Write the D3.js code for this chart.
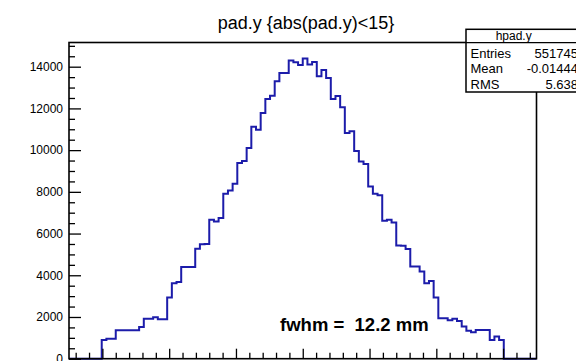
<!DOCTYPE html>
<html>
<head>
<meta charset="utf-8">
<script src="https://cdn.jsdelivr.net/npm/d3@7"></script>
<style>
    body { margin: 0; background: #fff; }
    svg { display: block; }
    text { font-family: "Liberation Sans", Arial, Helvetica, sans-serif; fill: #000; }
</style>
</head>
<body>
<div id="chart"></div>
<script>

// histogram hpad.y : 100 bins from -17.5 to 17.5
const binLo = -17.5;
const binHi = 17.5;
const counts = [
    0, 0, 0, 0, 0, 0, 0,
    900, 960, 960, 1360, 1360, 1360, 1360, 1370, 1520, 1920,
    1920, 1990, 1890, 1890, 2930, 3620, 3680, 4400, 4400, 4400,
    5270, 5490, 5500, 6660, 6580, 6750, 7910, 8070, 8390, 9380,
    9480, 10100, 11120, 10980, 11780, 12450, 12610, 13300, 13700, 13700,
    14300, 14210, 14080, 14390, 14100, 14230, 13540, 13840, 13460, 12450,
    12590, 12050, 10820, 10900, 9960, 9460, 9330, 8260, 7910, 7840,
    6610, 6660, 6530, 5430, 5410, 5260, 4420, 4420, 4180, 3620,
    3730, 2930, 1940, 1940, 1840, 1920, 1810, 1540, 1340, 1270,
    1380, 1380, 1380, 900, 1060, 900,
    0, 0, 0, 0, 0, 0, 0
];

const yMax = 15160;
const yMajorTicks = [0, 2000, 4000, 6000, 8000, 10000, 12000, 14000];
const xMajorTicks = [-15, -10, -5, 0, 5, 10, 15];

const titleText = "pad.y {abs(pad.y)<15}";
const statsTitle = "hpad.y";
const statsNames = ["Entries", "Mean", "RMS"];
const statsValues = ["551745", "-0.01444", "5.638"];
const fwhmText = "fwhm =  12.2 mm";
const fwhmPos = [-1.7, 1340];

var width = 576;
var height = 361;
var frameL = 69, frameR = 536.5, frameT = 42.5, frameB = 358.7;

var svg = d3.select("#chart")
    .append("svg")
    .attr("width", width)
    .attr("height", height);

svg.append("rect").attr("width", width).attr("height", height).attr("fill", "#fff");

/* SCALES */
var xScale = d3.scaleLinear().domain([binLo, binHi]).range([frameL, frameR]);
var yScale = d3.scaleLinear().domain([0, yMax]).range([frameB, frameT]);

/* HISTOGRAM OUTLINE */
var binW = (binHi - binLo) / counts.length;
var pts = [[binLo, 0]];
counts.forEach(function (c, i) {
    pts.push([binLo + i * binW, c]);
    pts.push([binLo + (i + 1) * binW, c]);
});
pts.push([binHi, 0]);

var line = d3.line()
    .x(function (d) { return xScale(d[0]); })
    .y(function (d) { return yScale(d[1]); });

svg.append("path")
    .datum(pts)
    .attr("d", line)
    .attr("fill", "none")
    .attr("stroke", "#1c1caa")
    .attr("stroke-width", 2);

/* AXES - ticks point inward like ROOT */
var yMinor = d3.range(0, yMax, 500).filter(function (v) { return v % 2000 !== 0; });
var xMinor = d3.range(-17, 18, 1).filter(function (v) { return v % 5 !== 0; });

function styleAxis(g) {
    g.select(".domain").remove();
    g.selectAll("line").attr("stroke", "#000").attr("stroke-width", 1.3);
}

svg.append("g")
    .attr("transform", `translate(${frameL},0)`)
    .call(d3.axisLeft(yScale).tickValues(yMinor).tickSize(-6).tickFormat(""))
    .call(styleAxis);

svg.append("g")
    .attr("transform", `translate(${frameL},0)`)
    .call(d3.axisLeft(yScale).tickValues(yMajorTicks).tickSize(-12).tickPadding(6).tickFormat(d3.format("d")))
    .call(styleAxis)
    .selectAll("text")
    .style("font-size", "12px");

// x labels sit below the visible area in the reference, so only ticks here
svg.append("g")
    .attr("transform", `translate(0,${frameB})`)
    .call(d3.axisBottom(xScale).tickValues(xMinor).tickSize(-6).tickFormat(""))
    .call(styleAxis);

svg.append("g")
    .attr("transform", `translate(0,${frameB})`)
    .call(d3.axisBottom(xScale).tickValues(xMajorTicks).tickSize(-10).tickFormat(""))
    .call(styleAxis);

/* FRAME */
svg.append("rect")
    .attr("x", frameL)
    .attr("y", frameT)
    .attr("width", frameR - frameL)
    .attr("height", frameB - frameT)
    .attr("fill", "none")
    .attr("stroke", "#000")
    .attr("stroke-width", 1.6);

/* TITLE */
svg.append("text")
    .attr("x", 306)
    .attr("y", 29)
    .attr("text-anchor", "middle")
    .style("font-size", "18px")
    .text(titleText);

/* STATS BOX */
var stats = svg.append("g");
stats.append("rect")
    .attr("x", 466)
    .attr("y", 29.3)
    .attr("width", 130)
    .attr("height", 62.7)
    .attr("fill", "#fff")
    .attr("stroke", "#000")
    .attr("stroke-width", 1.5);
stats.append("line")
    .attr("x1", 466).attr("x2", 576)
    .attr("y1", 42.7).attr("y2", 42.7)
    .attr("stroke", "#000").attr("stroke-width", 1.3);
stats.append("text")
    .attr("x", 513.7)
    .attr("y", 40)
    .attr("text-anchor", "middle")
    .style("font-size", "12px")
    .text(statsTitle);

statsNames.forEach(function (n, i) {
    stats.append("text")
        .attr("x", 470.5)
        .attr("y", 57.5 + i * 15.5)
        .style("font-size", "13px")
        .text(n);
    stats.append("text")
        .attr("x", 578)
        .attr("y", 57.5 + i * 15.5)
        .attr("text-anchor", "end")
        .style("font-size", "13px")
        .text(statsValues[i]);
});

/* FWHM LABEL */
svg.append("text")
    .attr("x", xScale(fwhmPos[0]))
    .attr("y", yScale(fwhmPos[1]))
    .attr("xml:space", "preserve")
    .style("white-space", "pre")
    .style("font-size", "18.5px")
    .style("font-weight", "bold")
    .text(fwhmText);

</script>
</body>
</html>
